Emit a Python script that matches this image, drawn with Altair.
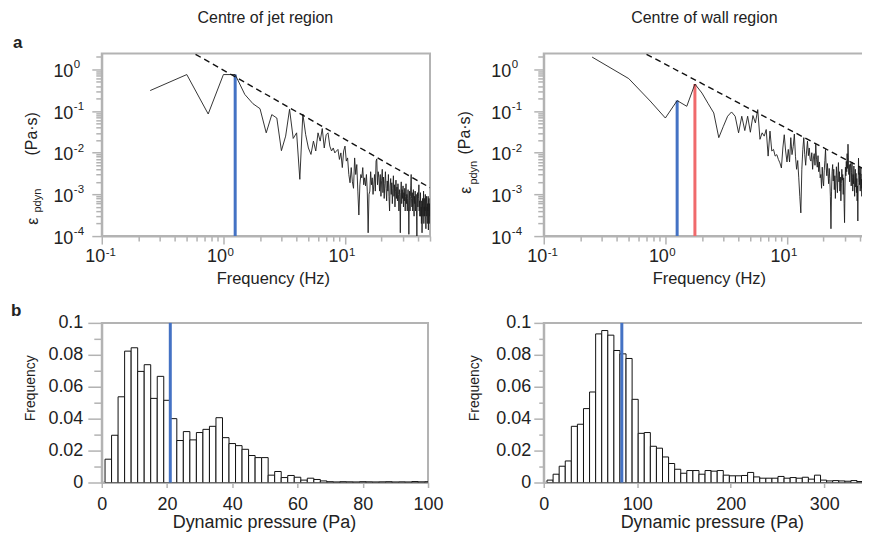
import altair as alt
import pandas as pd

FONT = "Liberation Sans"
AX = "#b3b3b3"
TXT = "#222222"
BLUE = "#4472c4"
RED = "#f06a6c"

# ---------------- data ----------------
freq_step = 0.25  # Hz, spectral resolution

eps_jet = [
    0.31, 0.75, 0.085, 0.75, 0.75, 0.25, 0.15, 0.114, 0.030, 0.082,
    0.068, 0.0112, 0.025, 0.11, 0.022, 0.030, 0.0023, 0.085, 0.027, 0.013,
    0.0091, 0.019, 0.011, 0.030, 0.019, 0.038, 0.013, 0.027, 0.030, 0.0144,
    0.011, 0.013, 0.0099, 0.011, 0.012, 0.0069, 0.0099, 0.0044, 0.011, 0.0144,
    0.0063, 0.0075, 0.003, 0.0019, 0.0044, 0.002, 0.0014, 0.0075, 0.003, 0.0052,
    0.0012, 0.00032, 0.0017, 0.003, 0.0025, 0.0044, 0.0017, 0.0025, 0.0016, 0.003,
    0.0012, 0.00012, 0.001, 0.0012, 0.0035, 0.0017, 0.0025, 0.001, 0.0017, 0.003,
    0.0012, 0.0063, 0.0071, 0.0017, 0.0035, 0.0025, 0.0012, 0.0030, 0.0009, 0.0022,
    0.0040, 0.0011, 0.0026, 0.0008, 0.0018, 0.0035, 0.0014, 0.0007, 0.0021, 0.0012,
    0.0030, 0.0009, 0.0004, 0.0016, 0.0024, 0.0010, 0.0019, 0.0006, 0.0014, 0.0028,
    0.0009, 0.0017, 0.0005, 0.0012, 0.0022, 0.0008, 0.0015, 0.0007, 0.0018, 0.0010,
    0.0004, 0.0013, 0.0009, 0.00012, 0.0011, 0.0020, 0.0006, 0.0013, 0.0008, 0.0016,
    0.0005, 0.0011, 0.0007, 0.0014, 0.0004, 0.0009, 0.0018, 0.0006, 0.0010, 0.0004,
    0.0008, 0.0013, 0.0005, 0.00011, 0.0007, 0.0012, 0.0004, 0.0009, 0.0016, 0.0030,
    0.0008, 0.0005, 0.0011, 0.0004, 0.0007, 0.0013, 0.0005, 0.0003, 0.0009, 0.0006,
    0.0012, 0.0004, 0.0007, 0.0010, 0.0003, 0.0001, 0.0006, 0.0011, 0.0005, 0.0008,
    0.0009, 0.0017, 0.0004, 0.0007, 0.0003, 0.0006, 0.0011, 0.0003, 0.0005, 0.0002,
    0.0007, 0.00012, 0.0004, 0.0008, 0.0003, 0.0005, 0.0012, 0.0002, 0.0005, 0.0003,
    0.0008, 0.0004, 0.0010, 0.0003, 0.00015, 0.0006, 0.0009, 0.0003, 0.0005, 0.0002,
    0.0006, 0.0004, 0.0009, 0.00014, 0.0005, 0.0008, 0.0002, 0.0006, 0.0003, 0.0005,
]

eps_wall = [
    1.97, 0.60, 0.174, 0.068, 0.178, 0.13, 0.445, 0.27, 0.15, 0.09,
    0.023, 0.043, 0.075, 0.095, 0.075, 0.030, 0.075, 0.034, 0.075, 0.031,
    0.078, 0.052, 0.108, 0.021, 0.030, 0.025, 0.036, 0.0083, 0.033, 0.011,
    0.012, 0.0083, 0.009, 0.0069, 0.0057, 0.0043, 0.013, 0.027, 0.011, 0.006,
    0.012, 0.006, 0.023, 0.009, 0.014, 0.028, 0.008, 0.004, 0.0065, 0.0025,
    0.0009, 0.00036, 0.004, 0.012, 0.023, 0.009, 0.005, 0.011, 0.019, 0.0085,
    0.013, 0.007, 0.0063, 0.010, 0.004, 0.0075, 0.0095, 0.005, 0.016, 0.007,
    0.0045, 0.0085, 0.0035, 0.006, 0.0025, 0.003, 0.0014, 0.0045, 0.0022, 0.0016,
    0.0038, 0.0065, 0.012, 0.0045, 0.0028, 0.0055, 0.0032, 0.0018, 0.0042, 0.0024,
    0.0009, 0.00015, 0.0012, 0.0035, 0.0052, 0.0021, 0.0040, 0.0013, 0.0028, 0.0008,
    0.0019, 0.0046, 0.0024, 0.0011, 0.0033, 0.0058, 0.0020, 0.0035, 0.0012, 0.0026,
    0.0007, 0.0018, 0.0040, 0.0022, 0.0030, 0.0010, 0.0025, 0.0006, 0.00021, 0.0015,
    0.0045, 0.0028, 0.0062, 0.0035, 0.0095, 0.0042, 0.016, 0.0075, 0.0030, 0.0052,
    0.0020, 0.0038, 0.0055, 0.0043, 0.0016, 0.0034, 0.0060, 0.0026, 0.0012, 0.0030,
    0.0018, 0.0048, 0.0022, 0.0009, 0.0027, 0.0040, 0.0015, 0.0032, 0.0011, 0.0024,
    0.0007, 0.0016, 0.00023, 0.0019, 0.0074, 0.0030, 0.0046, 0.0017, 0.0033, 0.0012,
    0.0027, 0.0044, 0.0014, 0.0023, 0.0009, 0.0031, 0.0018, 0.0005, 0.00016, 0.0012,
    0.0036, 0.0021, 0.0050, 0.0016, 0.0028, 0.0008, 0.0020, 0.0042, 0.0013, 0.00016,
    0.0011, 0.0025, 0.0038, 0.0017, 0.0029, 0.00045, 0.0015, 0.0033, 0.0021, 0.0009,
    0.0026, 0.0045, 0.0018, 0.0010, 0.0024, 0.0013, 0.0030, 0.0008, 0.0019, 0.0011,
]

freqs = [round(freq_step * (i + 1), 2) for i in range(len(eps_jet))]

# -5/3 reference lines (end points)
dash_jet_f = [0.59, 50.0]
dash_jet_v = [2.3, 0.00145]
dash_wall_f = [0.70, 50.0]
dash_wall_v = [2.3, 0.0032]

# marked peak frequencies
peak_jet_f = [1.25]
peak_jet_v = [0.75]
peak_jet_c = [BLUE]
peak_wall_f = [1.25, 1.75]
peak_wall_v = [0.178, 0.445]
peak_wall_c = [BLUE, RED]

# histograms
hist_jet_centers = list(range(2, 101, 2))
hist_jet_width = 2
hist_jet = [
    0.0146, 0.0296, 0.0537, 0.0823, 0.0844, 0.0696, 0.0738, 0.0527, 0.0665, 0.0515,
    0.0400, 0.0263, 0.0319, 0.0267, 0.0313, 0.0333, 0.0352, 0.0406, 0.0281, 0.0244,
    0.0231, 0.0208, 0.0169, 0.0156, 0.0156, 0.0046, 0.0069, 0.0031, 0.0044, 0.0033,
    0.0015, 0.0027, 0.0019, 0.0010, 0.0005, 0.0003, 0.0005, 0.0004, 0.0003, 0.0005,
    0.0004, 0.0003, 0.0004, 0.0005, 0.0003, 0.0004, 0.0003, 0.0006, 0.0004, 0.0005,
]
mean_jet = 21.0

hist_wall_start = 3.5
hist_wall_width = 6.5
hist_wall = [
    0.0015, 0.0052, 0.0102, 0.0135, 0.0352, 0.0365, 0.0463, 0.0567, 0.0931, 0.0952,
    0.0923, 0.0827, 0.0806, 0.0777, 0.0521, 0.0308, 0.0313, 0.0227, 0.0215, 0.0160,
    0.0119, 0.0083, 0.0058, 0.0075, 0.0075, 0.0052, 0.0075, 0.0071, 0.0075, 0.0046,
    0.0042, 0.0042, 0.0044, 0.0063, 0.0035, 0.0027, 0.0027, 0.0027, 0.0038, 0.0027,
    0.0031, 0.0027, 0.0033, 0.0021, 0.0046, 0.0015, 0.0010, 0.0012, 0.0010, 0.0008,
    0.0012, 0.0006, 0.0006, 0.0005,
]
mean_wall = 83.5

x_major = [0.1, 1, 10]
x_major_exp = ["-1", "0", "1"]
x_minor = [0.2, 0.3, 0.4, 0.5, 0.6, 0.7, 0.8, 0.9, 2, 3, 4, 5, 6, 7, 8, 9, 20, 30, 40, 50]
y_major = [1, 0.1, 0.01, 0.001, 0.0001]
y_major_exp = ["0", "-1", "-2", "-3", "-4"]
y_minor = [0.0002, 0.0003, 0.0004, 0.0005, 0.0006, 0.0007, 0.0008, 0.0009,
           0.002, 0.003, 0.004, 0.005, 0.006, 0.007, 0.008, 0.009,
           0.02, 0.03, 0.04, 0.05, 0.06, 0.07, 0.08, 0.09,
           0.2, 0.3, 0.4, 0.5, 0.6, 0.7, 0.8, 0.9, 2]
hist_y_major = [0, 0.02, 0.04, 0.06, 0.08, 0.1]
hist_y_minor = [0.01, 0.03, 0.05, 0.07, 0.09]

LBL = 18  # tick label size


# ---------------- helpers ----------------
def label(s, x, y, size=16, angle=0, align="center", weight="normal"):
    return alt.Chart(pd.DataFrame({"t": [s]})).mark_text(
        align=align, baseline="alphabetic", fontSize=size, angle=angle,
        fontWeight=weight, color=TXT, font=FONT,
    ).encode(text="t:N", x=alt.value(x), y=alt.value(y))


def spectrum_panel(eps, dfx, dfy, pf, pv, pc, W, H, ylab_pad, yexp_x, texts):
    xs = alt.Scale(type="log", domain=[0.1, 50], nice=False)
    ys = alt.Scale(type="log", domain=[0.0001, 2.4], nice=False)
    ax_x_major = alt.Axis(orient="bottom", values=x_major, labelExpr="'10'", tickSize=8,
                          labelPadding=17, labelBaseline="alphabetic", labelAlign="right",
                          labelOffset=3, labelFontSize=LBL, labelFlush=False, labelOverlap=False,
                          title=None, grid=False, domainColor=AX, domainWidth=2,
                          tickColor=AX, tickWidth=1.5, labelColor=TXT)
    ax_x_minor = alt.Axis(orient="bottom", values=x_minor, labels=False, tickSize=5,
                          domain=False, title=None, grid=False, tickColor=AX, tickWidth=1.5)
    ax_y_major = alt.Axis(orient="left", values=y_major, labelExpr="'10'", tickSize=10,
                          labelPadding=ylab_pad, labelBaseline="alphabetic", labelOffset=7,
                          labelFontSize=LBL, labelFlush=False, labelOverlap=False, title=None,
                          grid=False, domainColor=AX, domainWidth=2, tickColor=AX,
                          tickWidth=1.5, labelColor=TXT)
    ax_y_minor = alt.Axis(orient="left", values=y_minor, labels=False, tickSize=6,
                          domain=False, title=None, grid=False, tickColor=AX, tickWidth=1.5)

    df = pd.DataFrame({"f": freqs, "v": eps})
    rules = alt.Chart(pd.DataFrame({"f": pf, "top": pv, "bot": [0.0001] * len(pf), "c": pc})).mark_rule(
        strokeWidth=3, clip=True
    ).encode(
        x=alt.X("f:Q", scale=xs, axis=None),
        y=alt.Y("top:Q", scale=ys, axis=None),
        y2="bot:Q",
        color=alt.Color("c:N", scale=None),
    )
    main = alt.Chart(df).mark_line(color="#1e1e1e", strokeWidth=0.9, clip=True).encode(
        x=alt.X("f:Q", scale=xs, axis=ax_x_major),
        y=alt.Y("v:Q", scale=ys, axis=ax_y_major),
    )
    dash = alt.Chart(pd.DataFrame({"f": dfx, "v": dfy})).mark_line(
        color="#111111", strokeWidth=1.4, strokeDash=[6, 4], clip=True
    ).encode(
        x=alt.X("f:Q", scale=xs, axis=ax_x_minor),
        y=alt.Y("v:Q", scale=ys, axis=ax_y_minor),
    )
    xexp = alt.Chart(pd.DataFrame({"f": x_major, "e": x_major_exp})).mark_text(
        align="left", baseline="alphabetic", fontSize=11.5, dx=4, color=TXT, font=FONT
    ).encode(x=alt.X("f:Q", scale=xs, axis=None), y=alt.value(H + 20), text="e:N")
    yexp = alt.Chart(pd.DataFrame({"v": y_major, "e": y_major_exp})).mark_text(
        align="left", baseline="alphabetic", fontSize=11.5, dy=-1, color=TXT, font=FONT
    ).encode(y=alt.Y("v:Q", scale=ys, axis=None), x=alt.value(yexp_x), text="e:N")
    return alt.layer(rules, main, dash, xexp, yexp, *texts).resolve_axis(
        x="independent", y="independent"
    ).properties(width=W, height=H)


def hist_panel(lefts, width, heights, mean, xmax, xvals, W, H, ytick, ytick_minor, ypad, texts):
    xs = alt.Scale(domain=[0, xmax], nice=False, zero=False)
    ys = alt.Scale(domain=[0, 0.1], nice=False)
    ax_x = alt.Axis(orient="bottom", values=xvals, tickSize=5, labelPadding=22,
                    labelBaseline="alphabetic", labelFontSize=LBL, labelFlush=False,
                    labelOverlap=False, title=None, grid=False, domainColor=AX,
                    domainWidth=2, tickColor=AX, tickWidth=1.5, labelColor=TXT)
    ax_y = alt.Axis(orient="left", values=hist_y_major, format="~g", tickSize=ytick,
                    labelPadding=ypad, labelFontSize=LBL, labelFlush=False, labelOverlap=False,
                    title=None, grid=False, domainColor=AX, domainWidth=2, tickColor=AX,
                    tickWidth=1.5, labelColor=TXT)
    ax_y_minor = alt.Axis(orient="left", values=hist_y_minor, labels=False, tickSize=ytick_minor,
                          domain=False, title=None, grid=False, tickColor=AX, tickWidth=1.5)
    hdf = pd.DataFrame({"x0": lefts, "x1": [a + width for a in lefts], "h": heights,
                        "z": [0.0] * len(heights)})
    bars = alt.Chart(hdf).mark_rect(fill="white", stroke="#111111", strokeWidth=1, clip=True).encode(
        x=alt.X("x0:Q", scale=xs, axis=ax_x),
        x2="x1:Q",
        y=alt.Y("h:Q", scale=ys, axis=ax_y),
        y2="z:Q",
    )
    mline = alt.Chart(pd.DataFrame({"m": [mean], "lo": [0], "hi": [0.1]})).mark_rule(
        color=BLUE, strokeWidth=3
    ).encode(
        x=alt.X("m:Q", scale=xs, axis=None),
        y=alt.Y("lo:Q", scale=ys, axis=ax_y_minor),
        y2="hi:Q",
    )
    return alt.layer(bars, mline, *texts).resolve_axis(
        x="independent", y="independent"
    ).properties(width=W, height=H)


# ---------------- panels ----------------
TW_L, TW_R, TH = 329, 329, 183
BW_L, BW_R, BH = 327, 329, 160

tl = spectrum_panel(
    eps_jet, dash_jet_f, dash_jet_v, peak_jet_f, peak_jet_v, peak_jet_c,
    TW_L, TH, 19, -28,
    [
        label("Centre of jet region", 164, -31, 16),
        label("a", -89, -5.3, 17, align="left", weight="bold"),
        label("Frequency (Hz)", 172, TH + 48.5, 16.5),
        label("(Pa·s)", -65, 80.5, 16, angle=270),
        label("ε", -64, 168, 16, angle=270),
        label("pdyn", -60.5, 147.5, 11, angle=270),
    ],
)
tr = spectrum_panel(
    eps_wall, dash_wall_f, dash_wall_v, peak_wall_f, peak_wall_v, peak_wall_c,
    TW_R, TH, 23, -32,
    [
        label("Centre of wall region", 161, -31, 16),
        label("Frequency (Hz)", 166, TH + 48.5, 16.5),
        label("(Pa·s)", -74, 79.5, 16, angle=270),
        label("ε", -73, 137, 16, angle=270),
        label("pdyn", -67, 119.5, 11, angle=270),
    ],
)
bl = hist_panel(
    [c - hist_jet_width / 2 for c in hist_jet_centers], hist_jet_width, hist_jet, mean_jet,
    100, [0, 20, 40, 60, 80, 100], BW_L, BH, 14, 8, 5,
    [
        label("b", -91, -7, 17, align="left", weight="bold"),
        label("Frequency", -67, 65.5, 14, angle=270),
        label("Dynamic pressure (Pa)", 163, BH + 46, 18),
    ],
)
br = hist_panel(
    [hist_wall_start + hist_wall_width * i for i in range(len(hist_wall))], hist_wall_width,
    hist_wall, mean_wall, 351, [0, 100, 200, 300], BW_R, BH, 10, 5, 3,
    [
        label("Frequency", -65, 65.5, 14, angle=270),
        label("Dynamic pressure (Pa)", 169, BH + 46, 18),
    ],
)

chart = alt.concat(
    tl, tr, bl, br, columns=2, spacing={"row": 87, "column": 114}, bounds="flush"
).properties(
    padding={"left": 2, "top": 0, "right": -12, "bottom": 0}
).configure(font=FONT).configure_view(stroke=AX, strokeWidth=2).configure_axis(
    labelFont=FONT, labelColor=TXT
)

chart.save("out.html", embed_options={"renderer": "svg", "actions": False})
